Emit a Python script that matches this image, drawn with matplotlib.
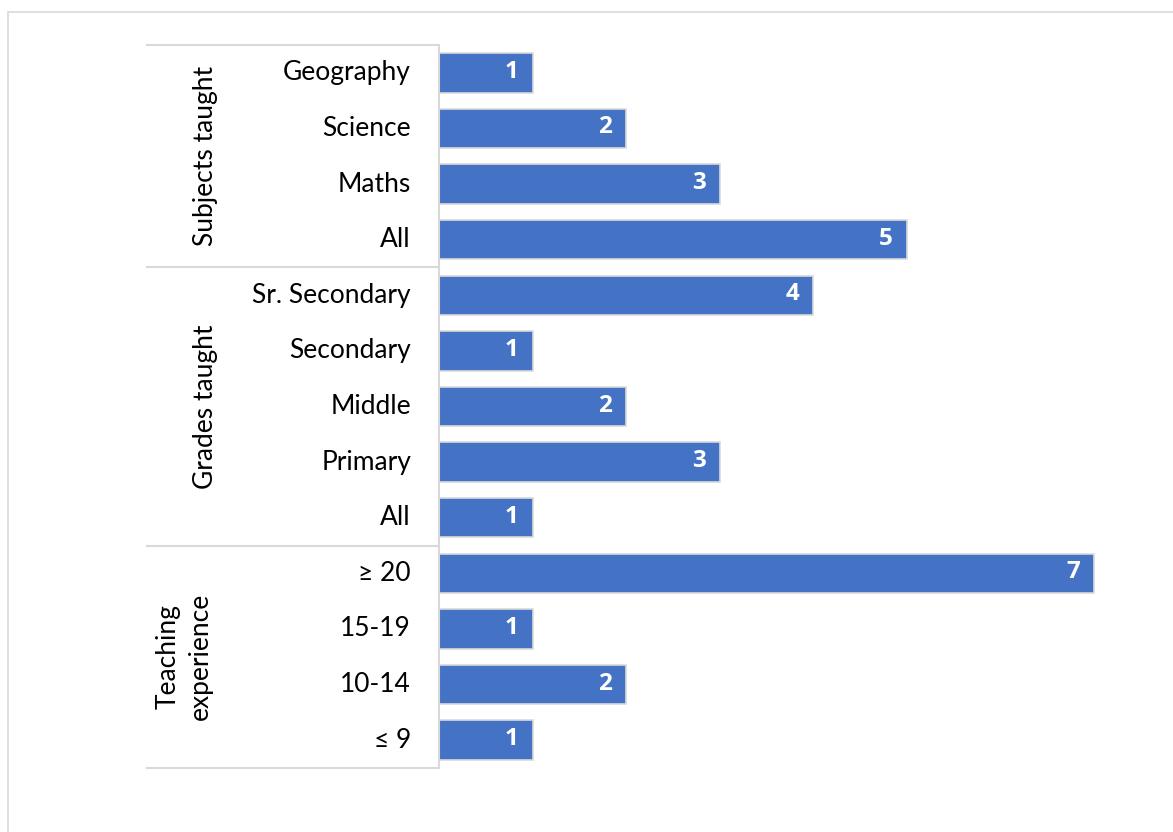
"""Horizontal bar chart of respondent counts, grouped by profile dimension."""

import matplotlib

matplotlib.use("Agg")
import matplotlib.pyplot as plt  # noqa: E402
import matplotlib.transforms as mtransforms  # noqa: E402
from matplotlib.patches import Rectangle  # noqa: E402

plt.rcParams["font.family"] = ["Lato", "DejaVu Sans"]

# categories top to bottom
categories = [
    "Geography", "Science", "Maths", "All",
    "Sr. Secondary", "Secondary", "Middle", "Primary", "All",
    "\u2265 20", "15-19", "10-14", "\u2264 9",
]
counts = [1, 2, 3, 5, 4, 1, 2, 3, 1, 7, 1, 2, 1]
groups = ["Subjects taught", "Grades taught", "Teaching\nexperience"]
group_sizes = [4, 5, 4]

BAR_COLOR = "#4472C4"
LINE_COLOR = "#D9D9D9"
W, H = 1173, 832

fig = plt.figure(figsize=(W / 100, H / 100), dpi=100)
# faint chart-area border (runs off the right and bottom edges)
fig.patches.append(
    Rectangle((8 / W, -0.1), 1.2, 1.1 - 12 / H, transform=fig.transFigure,
              fill=False, edgecolor=LINE_COLOR, linewidth=1.2)
)

left_px, top_px, bottom_px, unit_px, xmax = 439, 45, 768, 93.6, 7.5
ax_w = unit_px * xmax
ax = fig.add_axes([left_px / W, 1 - bottom_px / H, ax_w / W, (bottom_px - top_px) / H])


def ax_x(px):
    return (px - left_px) / ax_w


n = len(categories)
ys = list(range(n))
ax.barh(ys, counts, height=0.71, color=BAR_COLOR, edgecolor=LINE_COLOR, linewidth=1.2)
ax.set_xlim(0, xmax)
ax.set_ylim(n - 0.5, -0.5)
ax.set_xticks([])
ax.set_yticks([])
for side in ["top", "right", "bottom"]:
    ax.spines[side].set_visible(False)
ax.spines["left"].set_color(LINE_COLOR)
ax.spines["left"].set_linewidth(1.5)

for y, v in zip(ys, counts):
    ax.annotate(str(v), (v, y), xytext=(-14, 1), textcoords="offset pixels",
                ha="right", va="center", color="white", fontsize=17.5,
                fontweight="bold", family=["Open Sans", "DejaVu Sans"])

trans = mtransforms.blended_transform_factory(ax.transAxes, ax.transData)
for y, lab in zip(ys, categories):
    ax.text(ax_x(411), y, lab, transform=trans, ha="right", va="center",
            fontsize=19, color="#000000")

# group separators and labels
start = 0
ax.plot([ax_x(147), 0], [-0.5, -0.5], transform=trans, color=LINE_COLOR,
        linewidth=1.5, clip_on=False)
for g, size in zip(groups, group_sizes):
    end = start + size
    ax.plot([ax_x(147), 0], [end - 0.5, end - 0.5], transform=trans,
            color=LINE_COLOR, linewidth=1.5, clip_on=False)
    gx = ax_x(205) if "\n" not in g else ax_x(184)
    ax.text(gx, (start + end - 1) / 2, g, transform=trans, rotation=90,
            ha="center", va="center", fontsize=19, linespacing=1.35)
    start = end

fig.savefig("out.png", dpi=100)
plt.close(fig)
